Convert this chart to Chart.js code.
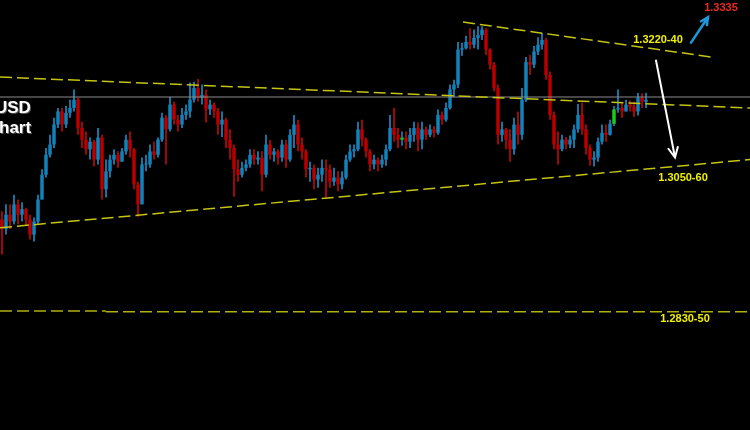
<!DOCTYPE html>
<html>
<head>
<meta charset="utf-8">
<script src="https://cdn.jsdelivr.net/npm/chart.js@4.4.0/dist/chart.umd.min.js"></script>
<style>
  html, body { margin: 0; padding: 0; background: #000; }
  #wrap { width: 750px; height: 430px; position: relative; background: #000; }
</style>
</head>
<body>
<div id="wrap"><canvas id="myChart"></canvas></div>
<script>
/*
  Candle data, one candle per bar.
  Open of a bar is the close of the bar before it.
*/
const startOpen = 1.2976;

const closes = [
  1.2962, 1.2983, 1.2973, 1.2998, 1.2983, 1.2991, 1.2976, 1.2954, 1.2973, 1.3005,
  1.3041, 1.3070, 1.3085, 1.3114, 1.3133, 1.3114, 1.3131, 1.3138, 1.3150, 1.3109,
  1.3092, 1.3078, 1.3089, 1.3063, 1.3095, 1.3020, 1.3046, 1.3063, 1.3070, 1.3060,
  1.3075, 1.3092, 1.3078, 1.3027, 1.2998, 1.3056, 1.3056, 1.3075, 1.3070, 1.3092,
  1.3124, 1.3107, 1.3143, 1.3121, 1.3114, 1.3128, 1.3133, 1.3150, 1.3167, 1.3153,
  1.3157, 1.3136, 1.3143, 1.3133, 1.3114, 1.3121, 1.3092, 1.3080, 1.3049, 1.3041,
  1.3051, 1.3056, 1.3070, 1.3063, 1.3066, 1.3041, 1.3085, 1.3070, 1.3075, 1.3066,
  1.3085, 1.3063, 1.3099, 1.3114, 1.3085, 1.3075, 1.3049, 1.3051, 1.3034, 1.3041,
  1.3051, 1.3049, 1.3031, 1.3037, 1.3027, 1.3037, 1.3063, 1.3075, 1.3078, 1.3107,
  1.3092, 1.3075, 1.3056, 1.3063, 1.3056, 1.3063, 1.3078, 1.3109, 1.3099, 1.3092,
  1.3095, 1.3089, 1.3099, 1.3109, 1.3092, 1.3107, 1.3099, 1.3107, 1.3102, 1.3128,
  1.3121, 1.3138, 1.3165, 1.3172, 1.3223, 1.3225, 1.3234, 1.3230, 1.3240, 1.3244,
  1.3252, 1.3223, 1.3201, 1.3167, 1.3099, 1.3107, 1.3092, 1.3078, 1.3114, 1.3099,
  1.3150, 1.3205, 1.3201, 1.3220, 1.3230, 1.3237, 1.3186, 1.3128, 1.3085, 1.3078,
  1.3092, 1.3085, 1.3092, 1.3107, 1.3128, 1.3107, 1.3080, 1.3063, 1.3066, 1.3089,
  1.3102, 1.3099, 1.3115, 1.3136, 1.3138, 1.3133, 1.3143, 1.3140, 1.3133, 1.3153,
  1.3147, 1.3150
];

const highs = [
  1.2988, 1.2998, 1.2998, 1.3012, 1.3005, 1.3001, 1.2993, 1.2983, 1.2979, 1.3012,
  1.3049, 1.3080, 1.3099, 1.3124, 1.3138, 1.3138, 1.3141, 1.3150, 1.3165, 1.3153,
  1.3118, 1.3104, 1.3095, 1.3092, 1.3109, 1.3099, 1.3063, 1.3070, 1.3078, 1.3075,
  1.3080, 1.3099, 1.3104, 1.3080, 1.3031, 1.3066, 1.3070, 1.3085, 1.3089, 1.3095,
  1.3131, 1.3128, 1.3154, 1.3147, 1.3128, 1.3138, 1.3143, 1.3175, 1.3176, 1.3180,
  1.3172, 1.3165, 1.3150, 1.3146, 1.3138, 1.3133, 1.3124, 1.3107, 1.3085, 1.3063,
  1.3060, 1.3063, 1.3078, 1.3078, 1.3075, 1.3075, 1.3099, 1.3092, 1.3080, 1.3078,
  1.3092, 1.3092, 1.3107, 1.3128, 1.3121, 1.3095, 1.3078, 1.3060, 1.3056, 1.3051,
  1.3063, 1.3063, 1.3056, 1.3051, 1.3046, 1.3046, 1.3070, 1.3085, 1.3085, 1.3118,
  1.3121, 1.3095, 1.3078, 1.3070, 1.3066, 1.3070, 1.3085, 1.3128, 1.3138, 1.3109,
  1.3104, 1.3104, 1.3109, 1.3118, 1.3117, 1.3118, 1.3111, 1.3114, 1.3112, 1.3136,
  1.3133, 1.3146, 1.3172, 1.3179, 1.3234, 1.3233, 1.3243, 1.3254, 1.3252, 1.3257,
  1.3257, 1.3254, 1.3225, 1.3205, 1.3172, 1.3118, 1.3109, 1.3107, 1.3124, 1.3133,
  1.3167, 1.3212, 1.3215, 1.3228, 1.3241, 1.3247, 1.3240, 1.3191, 1.3133, 1.3104,
  1.3099, 1.3096, 1.3098, 1.3114, 1.3144, 1.3146, 1.3114, 1.3085, 1.3075, 1.3095,
  1.3114, 1.3114, 1.3121, 1.3141, 1.3165, 1.3147, 1.3150, 1.3149, 1.3147, 1.3160,
  1.3159, 1.3160
];

const lows = [
  1.2925, 1.2954, 1.2962, 1.2969, 1.2969, 1.2973, 1.2967, 1.2947, 1.2944, 1.2969,
  1.3005, 1.3037, 1.3066, 1.3080, 1.3109, 1.3104, 1.3109, 1.3124, 1.3133, 1.3099,
  1.3080, 1.3070, 1.3063, 1.3053, 1.3056, 1.3005, 1.3008, 1.3037, 1.3056, 1.3051,
  1.3060, 1.3070, 1.3066, 1.3020, 1.2980, 1.2998, 1.3046, 1.3051, 1.3063, 1.3066,
  1.3089, 1.3056, 1.3104, 1.3114, 1.3104, 1.3109, 1.3121, 1.3124, 1.3146, 1.3147,
  1.3143, 1.3117, 1.3128, 1.3124, 1.3099, 1.3096, 1.3080, 1.3063, 1.3009, 1.3031,
  1.3037, 1.3046, 1.3051, 1.3056, 1.3056, 1.3017, 1.3037, 1.3063, 1.3060, 1.3056,
  1.3060, 1.3051, 1.3060, 1.3080, 1.3075, 1.3063, 1.3037, 1.3031, 1.3020, 1.3022,
  1.3031, 1.3008, 1.3022, 1.3025, 1.3017, 1.3020, 1.3034, 1.3060, 1.3066, 1.3075,
  1.3082, 1.3066, 1.3046, 1.3049, 1.3046, 1.3051, 1.3054, 1.3075, 1.3089, 1.3080,
  1.3083, 1.3078, 1.3080, 1.3089, 1.3075, 1.3078, 1.3092, 1.3096, 1.3095, 1.3099,
  1.3114, 1.3118, 1.3136, 1.3154, 1.3167, 1.3214, 1.3223, 1.3223, 1.3225, 1.3223,
  1.3237, 1.3215, 1.3194, 1.3162, 1.3085, 1.3089, 1.3078, 1.3060, 1.3070, 1.3085,
  1.3092, 1.3147, 1.3186, 1.3196, 1.3215, 1.3223, 1.3179, 1.3121, 1.3078, 1.3056,
  1.3075, 1.3078, 1.3080, 1.3080, 1.3102, 1.3099, 1.3070, 1.3054, 1.3053, 1.3060,
  1.3085, 1.3089, 1.3098, 1.3112, 1.3131, 1.3124, 1.3133, 1.3133, 1.3125, 1.3127,
  1.3138, 1.3138
];

// bars drawn green in the picture
const greenBars = [100, 153];

// trend lines as [bar index, price] pairs
const upperLine = [[-0.5, 1.3183], [187, 1.3138]];
const supportLine = [[-0.5, 1.2964], [187, 1.3063]];
const topLine = [[115.25, 1.3263], [177.5, 1.3212]];
const bottomLineA = [[-0.5, 1.2843], [26, 1.2843]];
const bottomLineB = [[26, 1.2842], [187, 1.2842]];
const lastPrice = 1.3154;

// price labels and arrows, placed at [bar index, price]
const notes = [
  { text: "1.3335", x: 179.75, y: 1.3283, color: "#ec2a22" },
  { text: "1.3220-40", x: 164, y: 1.3237, color: "#f0f000" },
  { text: "1.3050-60", x: 170.25, y: 1.3037, color: "#f0f000" },
  { text: "1.2830-50", x: 170.75, y: 1.2831, color: "#f0f000" },
];
const titleLines = [
  { text: "USD", x: -1.75, y: 1.3137 },
  { text: "hart", x: -0.75, y: 1.3108 },
];
const arrows = [
  { from: [172.25, 1.3233], to: [176.5, 1.3270], color: "#1e98dc", width: 2.5, head: 8 },
  { from: [163.5, 1.3207], to: [168.25, 1.3066], color: "#ffffff", width: 2, head: 11 },
];

var opens = [];
for (var i = 0; i < closes.length; i++) {
  opens.push(i === 0 ? startOpen : closes[i - 1]);
}

var wickData = [];
var bodyData = [];
var bodyColors = [];
var wickColors = [];
for (i = 0; i < closes.length; i++) {
  wickData.push({ x: i, y: [lows[i], highs[i]] });
  bodyData.push({ x: i, y: [opens[i], closes[i]] });
  if (greenBars.indexOf(i) >= 0) {
    bodyColors.push("#1ec81e");
    wickColors.push("#1e90c8");
  } else if (closes[i] >= opens[i]) {
    bodyColors.push("#1282ba");
    wickColors.push("#1e9ad8");
  } else {
    bodyColors.push("#b80000");
    wickColors.push("#d20a0a");
  }
}

function toPoints(pairs) {
  return pairs.map(function (p) { return { x: p[0], y: p[1] }; });
}

function dashed(pairs, color, width) {
  return {
    type: "line",
    data: toPoints(pairs),
    borderColor: color,
    borderWidth: width,
    borderDash: [12, 5],
    pointRadius: 0,
    fill: false,
    order: 0,
  };
}

// draws the price labels, title text and arrows on top of the chart
const notesPlugin = {
  id: "notes",
  afterDatasetsDraw(chart) {
    const ctx = chart.ctx;
    const xs = chart.scales.x;
    const ys = chart.scales.y;
    ctx.save();

    ctx.textBaseline = "middle";
    ctx.textAlign = "center";
    ctx.font = "bold 11px 'Liberation Sans', Arial, sans-serif";
    notes.forEach(function (n) {
      ctx.fillStyle = n.color;
      ctx.fillText(n.text, xs.getPixelForValue(n.x), ys.getPixelForValue(n.y));
    });

    ctx.textAlign = "left";
    ctx.font = "bold 17px 'Liberation Sans', Arial, sans-serif";
    titleLines.forEach(function (t) {
      const px = xs.getPixelForValue(t.x);
      const py = ys.getPixelForValue(t.y);
      ctx.fillStyle = "#555555";
      ctx.fillText(t.text, px + 1, py + 1);
      ctx.fillStyle = "#ffffff";
      ctx.fillText(t.text, px, py);
    });

    arrows.forEach(function (a) {
      const x1 = xs.getPixelForValue(a.from[0]);
      const y1 = ys.getPixelForValue(a.from[1]);
      const x2 = xs.getPixelForValue(a.to[0]);
      const y2 = ys.getPixelForValue(a.to[1]);
      const ang = Math.atan2(y2 - y1, x2 - x1);
      ctx.strokeStyle = a.color;
      ctx.lineWidth = a.width;
      ctx.lineCap = "round";
      ctx.beginPath();
      ctx.moveTo(x1, y1);
      ctx.lineTo(x2, y2);
      ctx.moveTo(x2 - a.head * Math.cos(ang - 0.45), y2 - a.head * Math.sin(ang - 0.45));
      ctx.lineTo(x2, y2);
      ctx.lineTo(x2 - a.head * Math.cos(ang + 0.45), y2 - a.head * Math.sin(ang + 0.45));
      ctx.stroke();
    });

    ctx.restore();
  },
};

const config = {
  type: "bar",
  data: {
    datasets: [
      dashed(upperLine, "#c4c414", 1.5),
      dashed(supportLine, "#c4c414", 1.5),
      dashed(topLine, "#c4c414", 1.5),
      dashed(bottomLineA, "#b0b010", 1.5),
      dashed(bottomLineB, "#b0b010", 1.5),
      {
        type: "line",
        data: toPoints([[-0.5, lastPrice], [187, lastPrice]]),
        borderColor: "#8c8c8c",
        borderWidth: 1,
        pointRadius: 0,
        fill: false,
        order: 0,
      },
      {
        label: "bodies",
        data: bodyData,
        backgroundColor: bodyColors,
        barThickness: 3.5,
        minBarLength: 1,
        grouped: false,
        borderWidth: 0,
        inflateAmount: 0,
        order: 1,
      },
      {
        label: "wicks",
        data: wickData,
        backgroundColor: wickColors,
        barThickness: 1.5,
        grouped: false,
        borderWidth: 0,
        inflateAmount: 0,
        order: 2,
      },
    ],
  },
  options: {
    responsive: true,
    maintainAspectRatio: false,
    animation: false,
    layout: { padding: 0 },
    plugins: {
      legend: { display: false },
      tooltip: { enabled: false },
    },
    scales: {
      x: { type: "linear", min: -0.5, max: 187, offset: false, display: false },
      y: { min: 1.2670, max: 1.3295, display: false },
    },
  },
  plugins: [notesPlugin],
};

var myChart = new Chart(document.getElementById("myChart"), config);
</script>
</body>
</html>
